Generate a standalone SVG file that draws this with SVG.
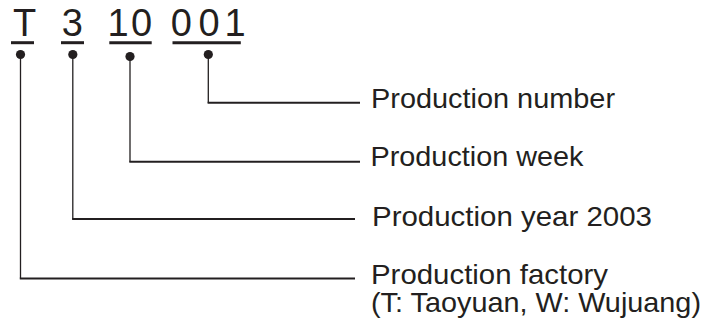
<svg xmlns="http://www.w3.org/2000/svg" width="706" height="322" viewBox="0 0 706 322">
<style>
.code{font-family:"Liberation Sans",Arial,sans-serif;font-size:38px;fill:#231f20}
.lbl{font-family:"Liberation Sans",Arial,sans-serif;font-size:28px;fill:#231f20}
.ul{stroke:#231f20;stroke-width:3}
.v{stroke:#231f20;stroke-width:1.3;fill:none}
.h{stroke:#231f20;stroke-width:2;fill:none}
.dot{fill:#231f20}
</style>
<rect width="706" height="322" fill="#ffffff"/>
<g id="code-factory">
<text class="code" x="13" y="36">T</text>
<line class="ul" x1="11" y1="42.7" x2="34" y2="42.7"/>
<circle class="dot" cx="20.5" cy="54.5" r="4.6"/>
</g>
<g id="code-year">
<text class="code" x="61.7" y="36">3</text>
<line class="ul" x1="61" y1="42.7" x2="84" y2="42.7"/>
<circle class="dot" cx="72.8" cy="54.5" r="4.6"/>
</g>
<g id="code-week">
<text class="code" x="107.6 131" y="36">10</text>
<line class="ul" x1="109.3" y1="42.7" x2="151.7" y2="42.7"/>
<circle class="dot" cx="130" cy="56.5" r="4.6"/>
</g>
<g id="code-number">
<text class="code" x="170.7 198.6 224.6" y="36">001</text>
<line class="ul" x1="172.5" y1="42.7" x2="240.8" y2="42.7"/>
<circle class="dot" cx="208.3" cy="54.5" r="4.6"/>
</g>
<g id="connectors">
<line class="v" x1="208.3" y1="55" x2="208.3" y2="102.7"/>
<line class="h" x1="207.6" y1="102.7" x2="360" y2="102.7"/>
<line class="v" x1="130" y1="57" x2="130" y2="161.7"/>
<line class="h" x1="129.3" y1="161.7" x2="360" y2="161.7"/>
<line class="v" x1="72.8" y1="55" x2="72.8" y2="219"/>
<line class="h" x1="72.1" y1="219" x2="355" y2="219"/>
<line class="v" x1="20.5" y1="55" x2="20.5" y2="278.5"/>
<line class="h" x1="19.8" y1="278.5" x2="355" y2="278.5"/>
</g>
<g id="label-number">
<text class="lbl" x="371" y="107.5" textLength="244" lengthAdjust="spacingAndGlyphs">Production number</text>
</g>
<g id="label-week">
<text class="lbl" x="370.5" y="166" textLength="213" lengthAdjust="spacingAndGlyphs">Production week</text>
</g>
<g id="label-year">
<text class="lbl" x="372" y="225.5" textLength="280" lengthAdjust="spacingAndGlyphs">Production year 2003</text>
</g>
<g id="label-factory">
<text class="lbl" x="371" y="284" textLength="237" lengthAdjust="spacingAndGlyphs">Production factory</text>
<text class="lbl" x="371" y="312" textLength="330" lengthAdjust="spacingAndGlyphs">(T: Taoyuan, W: Wujuang)</text>
</g>
</svg>
